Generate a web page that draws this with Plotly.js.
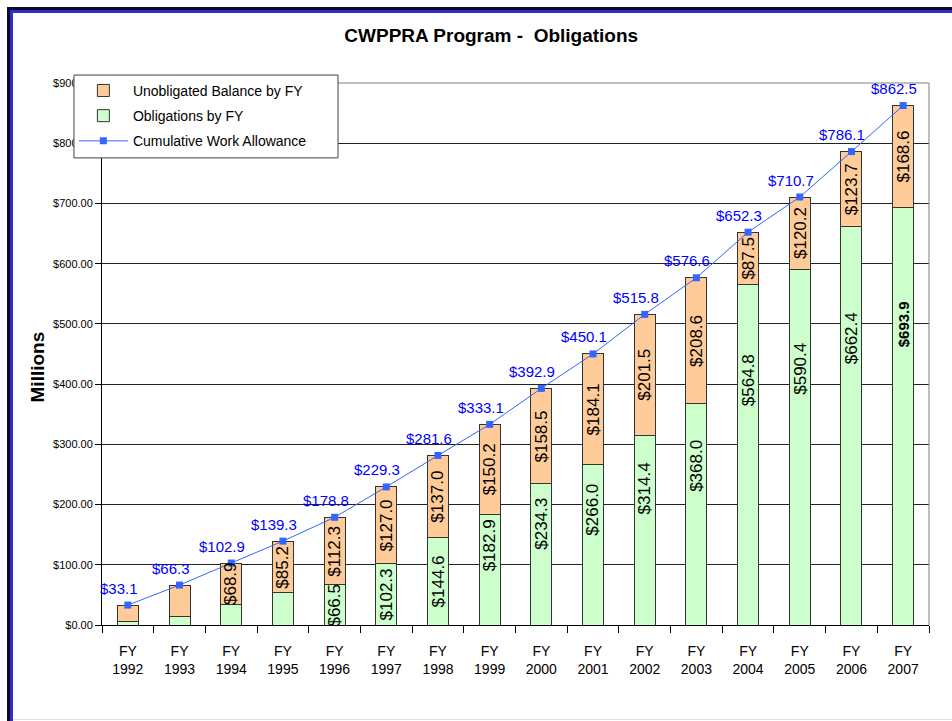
<!DOCTYPE html>
<html>
<head>
<meta charset="utf-8">
<script src="https://cdn.plot.ly/plotly-3.0.1.min.js"></script>
<style>
  html, body { margin: 0; padding: 0; background: #fff; }
  #wrap { position: relative; width: 952px; height: 721px; overflow: hidden; }
  #chart { position: absolute; left: 0; top: 0; width: 952px; height: 721px; }
  .frame { position: absolute; pointer-events: none; }
</style>
</head>
<body>
<div id="wrap">
  <div id="chart"></div>
  <div class="frame" style="left:7px; top:7px; width:945px; height:3px; background:#0a0a30;"></div>
  <div class="frame" style="left:10px; top:10px; width:942px; height:3px; background:#3030c0;"></div>
  <div class="frame" style="left:7px; top:7px; width:3px; height:714px; background:#0a0a30;"></div>
  <div class="frame" style="left:10px; top:10px; width:3px; height:711px; background:#3030c0;"></div>
  <div class="frame" style="left:13px; top:719px; width:939px; height:1px; background:#e0e0e0;"></div>
</div>
<script>
// ---- data ----
const years = [1992, 1993, 1994, 1995, 1996, 1997, 1998, 1999, 2000, 2001, 2002, 2003, 2004, 2005, 2006, 2007];
const categories = years.map(y => 'FY ' + y);
const tickLabels = years.map(y => 'FY<br>' + y);
const obligations = [6.6, 14.4, 34.0, 54.1, 66.5, 102.3, 144.6, 182.9, 234.3, 266.0, 314.4, 368.0, 564.8, 590.4, 662.4, 693.9];
const unobligated = [26.5, 51.9, 68.9, 85.2, 112.3, 127.0, 137.0, 150.2, 158.5, 184.1, 201.5, 208.6, 87.5, 120.2, 123.7, 168.6];
const cumulative = [33.1, 66.3, 102.9, 139.3, 178.8, 229.3, 281.6, 333.1, 392.9, 450.1, 515.8, 576.6, 652.3, 710.7, 786.1, 862.5];

// label options
const OBL_LABEL_START = 4;    // first bar whose obligation is labelled
const UNOB_LABEL_START = 2;   // first bar whose unobligated balance is labelled
const BOLD_OBL_INDEX = 15;    // the bold obligation label
const TALL_SEGMENT = 150;     // segments taller than this carry their label higher up
const TALL_LABEL_FRACTION = 0.72;

const FONT = 'Liberation Sans, Arial, sans-serif';
const fmt = v => '$' + v.toFixed(1);

const traces = [
  {
    type: 'bar', name: 'Obligations by FY', x: categories, y: obligations,
    marker: { color: '#CCFFCC', line: { color: '#333333', width: 1 } },
    legendrank: 2, legendgroup: 'g2', hoverinfo: 'y'
  },
  {
    type: 'bar', name: 'Unobligated Balance by FY', x: categories, y: unobligated,
    marker: { color: '#FFCC99', line: { color: '#333333', width: 1 } },
    legendrank: 1, legendgroup: 'g1', hoverinfo: 'y'
  },
  {
    type: 'scatter', mode: 'lines+markers', name: 'Cumulative Work Allowance',
    x: categories, y: cumulative,
    line: { color: '#3366FF', width: 1 },
    marker: { symbol: 'square', size: 7, color: '#3366FF' },
    legendrank: 3, legendgroup: 'g3', hoverinfo: 'y'
  }
];

const annotations = [];
categories.forEach((c, i) => {
  annotations.push({
    x: c, y: cumulative[i], xref: 'x', yref: 'y', text: fmt(cumulative[i]),
    showarrow: false, xshift: -9, yshift: 17, yanchor: 'middle',
    font: { family: FONT, size: 15, color: '#0000FF' }
  });
  if (i >= OBL_LABEL_START) {
    const bold = i === BOLD_OBL_INDEX;
    const frac = obligations[i] > TALL_SEGMENT ? TALL_LABEL_FRACTION : 0.5;
    annotations.push({
      x: c, y: obligations[i] * frac, xref: 'x', yref: 'y',
      text: bold ? '<b>' + fmt(obligations[i]) + '</b>' : fmt(obligations[i]),
      showarrow: false, textangle: -90,
      font: { family: FONT, size: bold ? 15 : 17, color: '#000000' }
    });
  }
  if (i >= UNOB_LABEL_START) {
    annotations.push({
      x: c, y: obligations[i] + unobligated[i] / 2, xref: 'x', yref: 'y', text: fmt(unobligated[i]),
      showarrow: false, textangle: -90,
      font: { family: FONT, size: 17, color: '#000000' }
    });
  }
});

// y-axis title
annotations.push({
  xref: 'paper', yref: 'paper', x: -0.0786, y: 0.477, xanchor: 'center', yanchor: 'middle',
  text: '<b>Millions</b>', textangle: -90, showarrow: false,
  font: { family: FONT, size: 19, color: '#000000' }
});

const layout = {
  width: 952, height: 721,
  paper_bgcolor: '#ffffff', plot_bgcolor: '#ffffff',
  margin: { l: 102, r: 23, t: 83, b: 96, pad: 0, autoexpand: false },
  font: { family: FONT, color: '#000000' },
  title: {
    text: '<b>CWPPRA Program -  Obligations</b>',
    x: 0.516, xanchor: 'center', y: 0.951, yanchor: 'middle',
    font: { family: FONT, size: 19, color: '#000000' }
  },
  barmode: 'stack', bargap: 0.594,
  showlegend: true,
  legend: {
    x: -0.034, xanchor: 'left', y: 1.015, yanchor: 'top',
    bgcolor: 'rgba(0,0,0,0)', borderwidth: 0,
    font: { family: FONT, size: 14, color: '#000000' },
    tracegroupgap: 4, itemwidth: 49
  },
  xaxis: {
    type: 'category', tickmode: 'array', tickvals: categories, ticktext: tickLabels,
    range: [-0.5, categories.length - 0.5], autorange: false,
    tickson: 'boundaries', ticks: 'outside', ticklen: 7, tickcolor: '#000000',
    showline: true, linecolor: '#000000', linewidth: 1,
    showgrid: false, tickfont: { family: FONT, size: 14, color: '#000000' },
    ticklabelstandoff: 13
  },
  yaxis: {
    range: [0, 900], autorange: false, dtick: 100, tick0: 0,
    tickprefix: '$', tickformat: '.2f',
    ticks: 'outside', ticklen: 6, tickcolor: '#000000',
    showline: true, linecolor: '#000000', linewidth: 1,
    showgrid: true, gridcolor: '#222222', gridwidth: 1, zeroline: false,
    tickfont: { family: FONT, size: 11, color: '#000000' }
  },
  shapes: [
    { type: 'line', xref: 'paper', yref: 'paper', x0: 0, x1: 1, y0: 1, y1: 1, line: { color: '#808080', width: 1 }, layer: 'above' },
    { type: 'line', xref: 'paper', yref: 'paper', x0: 1, x1: 1, y0: 0, y1: 1, line: { color: '#808080', width: 1 }, layer: 'above' },
    { type: 'rect', xref: 'paper', yref: 'paper', x0: -0.0339, x1: 0.2854, y0: 0.8618, y1: 1.0147,
      fillcolor: '#ffffff', line: { color: '#404040', width: 1 }, layer: 'above' }
  ],
  annotations: annotations
};

Plotly.newPlot('chart', traces, layout, { displayModeBar: false, staticPlot: true });
</script>
</body>
</html>
